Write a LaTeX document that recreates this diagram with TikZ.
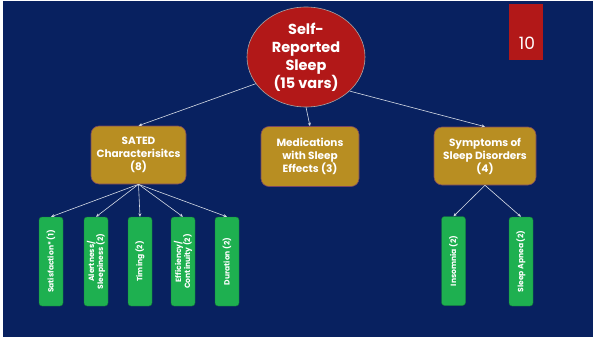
\documentclass[tikz,border=0pt]{standalone}
\usepackage{fontspec}
\setmainfont{Poppins}
\usetikzlibrary{shapes.geometric,arrows.meta}
\definecolor{bgblue}{RGB}{8,33,96}
\definecolor{slidered}{RGB}{178,24,24}
\definecolor{boxgold}{RGB}{184,142,34}
\definecolor{goldedge}{RGB}{120,70,100}
\definecolor{boxgreen}{RGB}{30,176,80}
\definecolor{arrowgray}{RGB}{215,220,230}
\begin{document}
\begin{tikzpicture}[x=1pt,y=-1pt,
  topnode/.style={ellipse, fill=slidered, draw=gray!70, line width=0.6pt, minimum width=118pt, minimum height=100pt, inner sep=0pt, align=center, text=white, font=\bfseries\fontsize{14.5}{18}\selectfont},
  goldbox/.style={rectangle, rounded corners=8pt, fill=boxgold, draw=goldedge, line width=0.6pt, minimum height=58pt, inner sep=0pt, align=center, text=white, font=\bfseries\fontsize{10.5}{13}\selectfont},
  greenbox/.style={rectangle, rounded corners=3pt, fill=boxgreen, draw=boxgreen!70!black, line width=0.4pt, minimum width=89pt, minimum height=24pt, inner sep=0pt, rotate=90, align=center, text=white, font=\bfseries\fontsize{7.6}{9}\selectfont},
  conn/.style={draw=arrowgray, line width=0.6pt, -{Stealth[length=3.5pt,width=3pt]}}
]
\useasboundingbox (0,0) rectangle (593,337);
\fill[white] (0,0) rectangle (593,337);
\fill[bgblue] (3,1) rectangle (593,337);
% page number tab
\fill[slidered] (509,4) rectangle (543,60);
\node[text=white, font=\fontsize{17}{20}\selectfont, inner sep=0pt] (pagenum) at (527,43) {10};
% top node
\node[topnode] (self) at (306,57) {Self-\\Reported\\Sleep\\(15 vars)};
% middle nodes
\node[goldbox, minimum width=95pt] (sated) at (138.5,155) {SATED\\Characterisitcs\\(8)};
\node[goldbox, minimum width=98pt, minimum height=60pt] (meds) at (310,156.5) {Medications\\with Sleep\\Effects (3)};
\node[goldbox, minimum width=102pt] (symp) at (485,156) {Symptoms of\\Sleep Disorders\\(4)};
% green nodes
\node[greenbox] (satis) at (51,261.5) {Satisfaction* (1)};
\node[greenbox] (alert) at (96,261.5) {Alertness/\\Sleepiness (2)};
\node[greenbox] (timing) at (140,261.5) {Timing (2)};
\node[greenbox] (effic) at (183,261.5) {Efficiency/\\Continuity (2)};
\node[greenbox] (durat) at (227,261.5) {Duration (2)};
\node[greenbox] (insom) at (453.5,261) {Insomnia (2)};
\node[greenbox] (apnea) at (521,261.5) {Sleep Apnea (2)};
% connectors
\draw[conn] (self.208) -- (sated.north);
\draw[conn] (self.south) -- (meds.north);
\draw[conn] (self.-38) -- (symp.north);
\foreach \t in {satis,alert,timing,effic,durat}
  \draw[conn] (sated.south) -- (\t.east);
\foreach \t in {insom,apnea}
  \draw[conn] (symp.south) -- (\t.east);
\end{tikzpicture}
\end{document}
